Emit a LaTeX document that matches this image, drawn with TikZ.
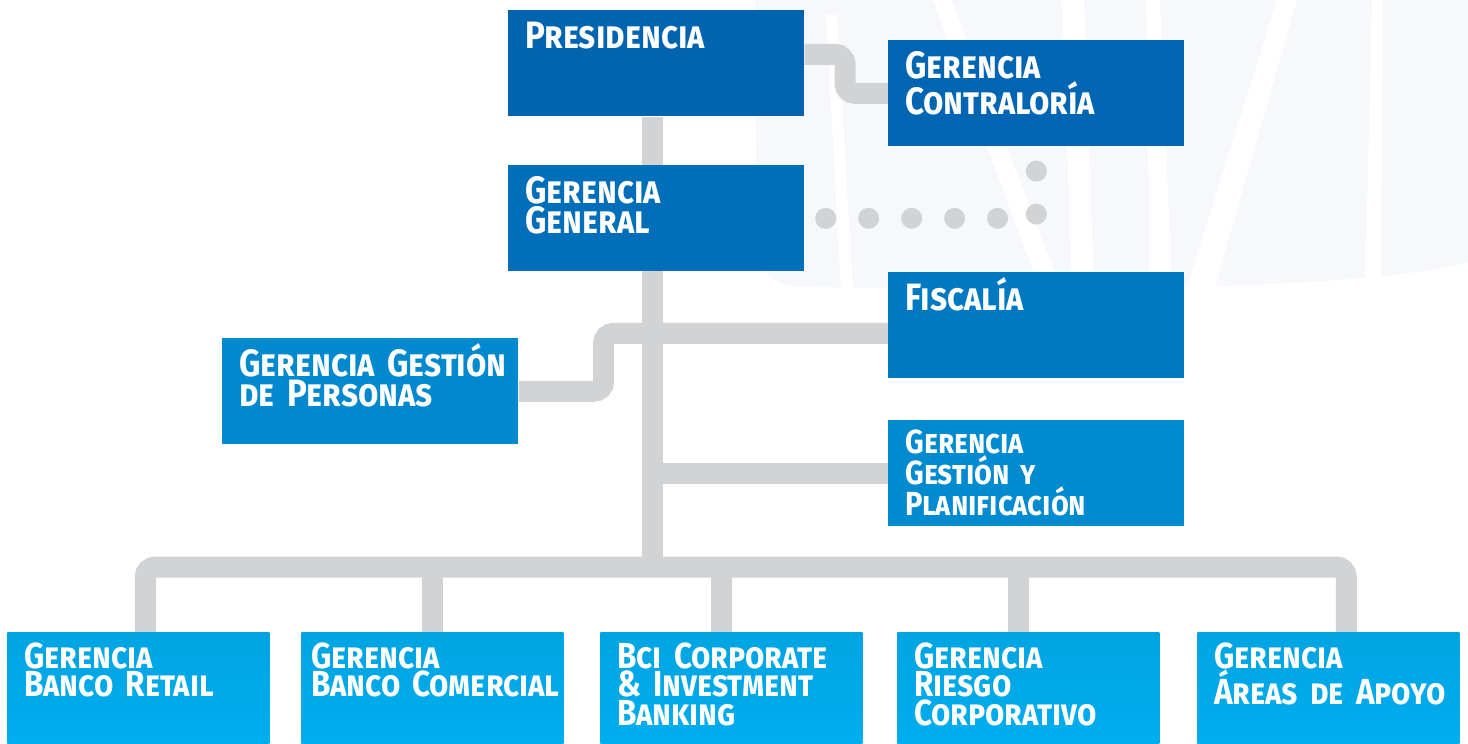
\documentclass[tikz,border=0pt]{standalone}
\usepackage{fontspec}
\setmainfont{Fira Sans}[FakeStretch=0.87, WordSpace=0.3]
\usetikzlibrary{backgrounds}
\definecolor{azulpres}{HTML}{0064B0}
\definecolor{azulcont}{HTML}{0066B3}
\definecolor{azulgg}{HTML}{006EB8}
\definecolor{azulfis}{HTML}{0079C2}
\definecolor{azulpers}{HTML}{0089CF}
\definecolor{azulplan}{HTML}{008AD0}
\definecolor{celestesup}{HTML}{00A4E2}
\definecolor{celesteinf}{HTML}{00AEEF}
\definecolor{gris}{HTML}{D1D3D4}
\definecolor{fondo}{HTML}{F6F8FC}
\tikzset{
	caja/.style={fill=#1, inner sep=0pt, anchor=north west, minimum width=5.92cm, minimum height=2.12cm},
	cajab/.style={top color=celestesup, bottom color=celesteinf, inner sep=0pt, anchor=north west, minimum width=5.24cm, minimum height=2.4cm},
	rotulo/.style={anchor=base west, xshift=0.34cm, yshift=-0.78cm, text=white, text width=5.5cm, align=left, inner sep=0pt, font=\fontsize{21.7}{17}\selectfont\bfseries\scshape},
	rotulob/.style={rotulo, yshift=0.06cm, font=\fontsize{20.6}{16.5}\selectfont\bfseries\scshape},
	linea/.style={line width=0.42cm, draw=gris, rounded corners=0.2cm},
	puntos/.style={line width=0.42cm, draw=gris, line cap=round, dash pattern=on 0pt off 0.86cm, dash phase=0.44cm}
}
\begin{document}
\begin{tikzpicture}[x=0.02cm, y=-0.02cm]
	\useasboundingbox (0,0) rectangle (1468,744);
	% cajas superiores
	\node[caja=azulpres, label={[rotulo]north west:Presidencia}] (pres) at (508,10) {};
	\node[caja=azulcont, label={[rotulo]north west:{Gerencia\\Contraloría}}] (contra) at (888,40) {};
	\node[caja=azulgg, label={[rotulo]north west:{Gerencia\\General}}] (gg) at (508,165) {};
	\node[caja=azulfis, label={[rotulo]north west:Fiscalía}] (fisc) at (888,272) {};
	\node[caja=azulpers, label={[rotulo]north west:{Gerencia Gestión\\de Personas}}] (pers) at (222,338) {};
	\node[caja=azulplan, label={[rotulo, yshift=0.12cm, font=\fontsize{19}{14.6}\selectfont\bfseries\scshape]north west:{Gerencia\\Gestión y\\Planificación}}] (plan) at (888,420) {};
	% gerencias de negocio
	\node[cajab, label={[rotulob]north west:{Gerencia\\Banco Retail}}] (retail) at (7,632) {};
	\node[cajab, label={[rotulob, xshift=-0.14cm]north west:{Gerencia\\Banco Comercial}}] (comercial) at (301,632) {};
	\node[cajab, label={[rotulob]north west:{Bci Corporate\\\& Investment\\Banking}}] (cib) at (600,632) {};
	\node[cajab, label={[rotulob]north west:{Gerencia\\Riesgo\\Corporativo}}] (riesgo) at (897,632) {};
	\node[cajab, label={[rotulob]north west:{Gerencia\\Áreas de Apoyo}}] (apoyo) at (1197,632) {};
	\begin{pgfonlayer}{background}
		% marca de agua
		\fill[fondo] (754,0) -- (1468,0) -- (1468,262) .. controls (1400,282) and (1200,290) .. (1000,290) -- (800,287) .. controls (770,285) and (760,270) .. (757,240) -- cycle;
		\fill[white] (826,15) -- (837,15) -- (853,290) -- (841,290) -- cycle;
		\fill[white] (933,0) -- (952,0) -- (1061,290) -- (1040,290) -- cycle;
		\fill[white] (1062,0) -- (1084,0) -- (1094,290) -- (1072,290) -- cycle;
		\fill[white] (1146,0) -- (1160,0) -- (1172,290) -- (1150,290) -- cycle;
		\fill[white] (1277,0) -- (1297,0) -- (1214,290) -- (1186,290) -- cycle;
		\fill[white] (1372,0) -- (1383,0) -- (1381,290) -- (1365,290) -- cycle;
		% conectores
		\coordinate (tronco) at ([xshift=-0.08cm]pres.south);
		\coordinate (bus) at ([yshift=1.3cm]cib.north);
		\draw[linea] (tronco) -- (tronco |- bus);
		\draw[linea] ([yshift=0.18cm]pres.east) -| ([xshift=-0.86cm]contra.west) -- (contra.west);
		\draw[puntos] (gg.east) -| (contra.south);
		\draw[linea] ([yshift=-0.16cm]fisc.west) -| ([xshift=1.7cm]pers.east) -- (pers.east);
		\draw[linea] (plan.west) -- (plan.west -| tronco);
		\draw[linea] ([xshift=0.14cm]retail.north) |- (bus) -| ([xshift=0.36cm]apoyo.north);
		\draw[linea] (comercial.north) -- (comercial.north |- bus);
		\draw[linea] ([xshift=-0.2cm]cib.north) -- ([xshift=-0.2cm]cib.north |- bus);
		\draw[linea] ([xshift=-0.2cm]riesgo.north) -- ([xshift=-0.2cm]riesgo.north |- bus);
	\end{pgfonlayer}
\end{tikzpicture}
\end{document}
